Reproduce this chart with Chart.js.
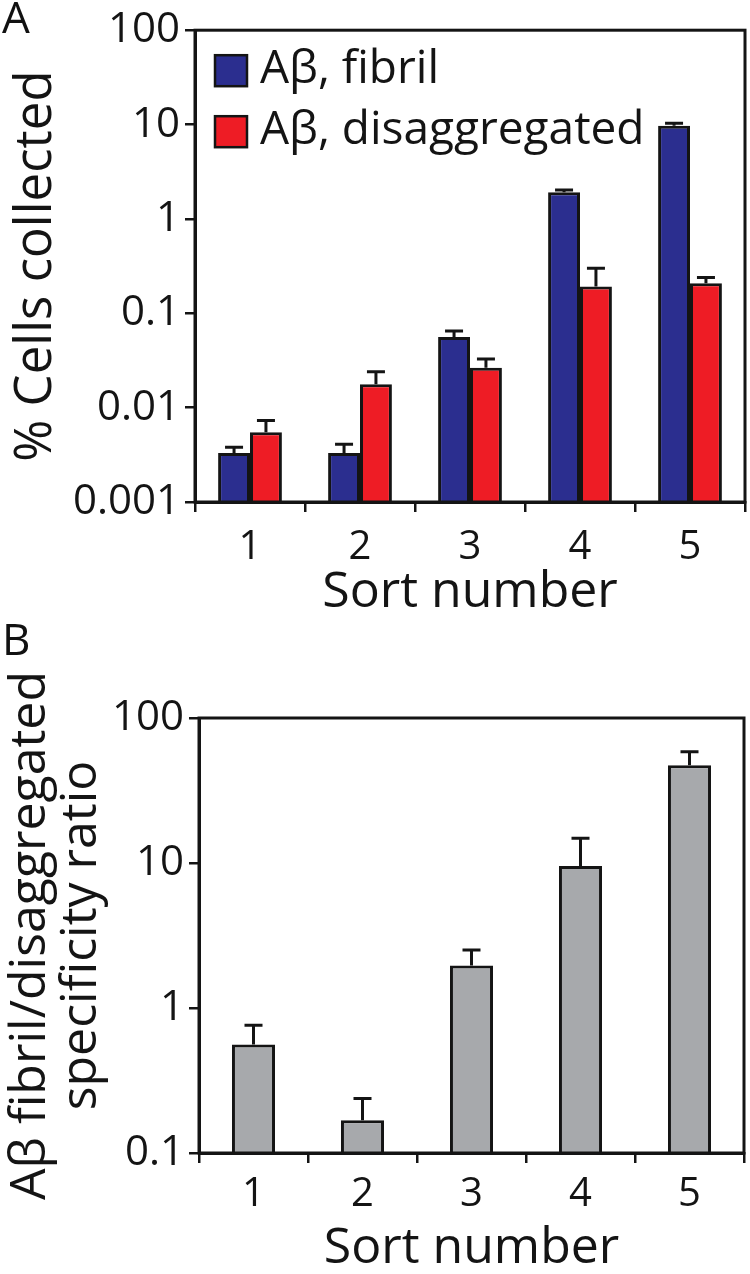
<!DOCTYPE html>
<html>
<head>
<meta charset="utf-8">
<script src="https://cdn.jsdelivr.net/npm/chart.js@4.4.0/dist/chart.umd.min.js"></script>
<style>
  html, body { margin: 0; padding: 0; background: #fff; }
  body { width: 750px; height: 1274px; position: relative; overflow: hidden; }
  .panel { position: absolute; left: 0; width: 750px; }
  #panelA { top: 0; height: 630px; }
  #panelB { top: 630px; height: 644px; }
  .letter { position: absolute; left: 2px; font-family: 'Open Sans', sans-serif; font-size: 44px; line-height: 1; color: #111; }
</style>
</head>
<body>
<div class="panel" id="panelA"><canvas id="chartA" width="750" height="630"></canvas></div>
<div class="panel" id="panelB"><canvas id="chartB" width="750" height="644"></canvas></div>
<div class="letter" style="top:-6px">A</div>
<div class="letter" style="top:616px">B</div>

<script>
// 데이터
const sortLabels = ['1', '2', '3', '4', '5'];

// 패널 A: % 회수된 세포
const fibrilPct = [0.0033, 0.0033, 0.056, 1.92, 9.7];
const fibrilErr = [0.0005, 0.0008, 0.009, 0.11, 0.6];
const disaggPct = [0.0055, 0.0177, 0.0264, 0.192, 0.208];
const disaggErr = [0.0018, 0.0063, 0.0063, 0.108, 0.031];
const yTicksA = [0.001, 0.01, 0.1, 1, 10, 100];
const yTickLabelsA = ['0.001', '0.01', '0.1', '1', '10', '100'];

// 패널 B: fibril/disaggregated 비율
const ratioVals = [0.56, 0.168, 1.96, 9.53, 47.2];
const ratioErr = [0.2, 0.07, 0.55, 5.3, 11.4];
const yTicksB = [0.1, 1, 10, 100];
const yTickLabelsB = ['0.1', '1', '10', '100'];

const FONT = "'Open Sans', sans-serif";
const INK = '#141414';

// 에러바 — Chart.js엔 없어서 플러그인으로 그림 (값 → 스케일 픽셀)
const errorBars = {
  id: 'errorBars',
  afterDatasetsDraw(chart) {
    const { ctx } = chart;
    const yScale = chart.scales.y;
    chart.data.datasets.forEach((ds, i) => {
      if (!ds.errors) return;
      chart.getDatasetMeta(i).data.forEach((bar, j) => {
        const top = yScale.getPixelForValue(ds.data[j] + ds.errors[j]);
        ctx.save();
        ctx.strokeStyle = INK;
        ctx.lineWidth = 3;
        ctx.beginPath();
        ctx.moveTo(bar.x, bar.y);
        ctx.lineTo(bar.x, top);
        ctx.moveTo(bar.x - 9, top);
        ctx.lineTo(bar.x + 9, top);
        ctx.stroke();
        ctx.restore();
      });
    });
  },
};

// 플롯 영역 테두리 (위/오른쪽 선 포함)
const frame = {
  id: 'frame',
  afterDraw(chart) {
    const { ctx, chartArea: a } = chart;
    ctx.save();
    ctx.strokeStyle = INK;
    ctx.lineWidth = 3;
    ctx.strokeRect(a.left, a.top, a.right - a.left, a.bottom - a.top);
    ctx.restore();
  },
};

// 범례 — 플롯 안쪽 왼쪽 위에 세로로
const boxLegend = {
  id: 'boxLegend',
  afterDraw(chart, args, opts) {
    if (!opts.show) return;
    const { ctx, chartArea: a } = chart;
    chart.data.datasets.forEach((ds, i) => {
      const x = a.left + 20;
      const y = a.top + 25 + i * 61;
      ctx.save();
      ctx.fillStyle = ds.backgroundColor;
      ctx.fillRect(x, y, 32, 31);
      ctx.strokeStyle = INK;
      ctx.lineWidth = 2.5;
      ctx.strokeRect(x, y, 32, 31);
      ctx.fillStyle = INK;
      ctx.font = `46px ${FONT}`;
      ctx.textBaseline = 'middle';
      ctx.fillText(ds.label, x + 45, y + 15);
      ctx.restore();
    });
  },
};

function axisX(scaleHeight, tickPad, titlePad) {
  return {
    grid: { drawOnChartArea: false, drawTicks: true, tickLength: 10, color: INK, lineWidth: 2.5, offset: true },
    border: { display: true, color: INK, width: 3 },
    ticks: { color: INK, font: { family: FONT, size: 40 }, padding: tickPad },
    title: { display: true, text: 'Sort number', color: INK, font: { family: FONT, size: 50, lineHeight: 1 }, padding: { top: 0, bottom: titlePad } },
    afterFit: (s) => { s.height = scaleHeight; },
  };
}

function axisY(min, max, ticks, labels, width, title, titleSize, titlePad, lineHeight) {
  return {
    type: 'logarithmic',
    min, max,
    afterBuildTicks: (s) => { s.ticks = ticks.map(v => ({ value: v })); },
    grid: { drawOnChartArea: false, drawTicks: true, tickLength: 10, color: INK, lineWidth: 2.5 },
    border: { display: true, color: INK, width: 3 },
    ticks: { color: INK, font: { family: FONT, size: 42 }, padding: 5, callback: (v, i) => labels[i] },
    title: { display: true, text: title, color: INK, font: { family: FONT, size: titleSize, lineHeight }, padding: { top: titlePad, bottom: 0 } },
    afterFit: (s) => { s.width = width; },
  };
}

new Chart(document.getElementById('chartA'), {
  type: 'bar',
  data: {
    labels: sortLabels,
    datasets: [
      {
        label: 'Aβ, fibril',
        data: fibrilPct,
        errors: fibrilErr,
        backgroundColor: '#2b2e8f',
        borderColor: INK,
        borderWidth: 3,
        categoryPercentage: 0.58,
        barPercentage: 1.0,
      },
      {
        label: 'Aβ, disaggregated',
        data: disaggPct,
        errors: disaggErr,
        backgroundColor: '#ee1c25',
        borderColor: INK,
        borderWidth: 3,
        categoryPercentage: 0.58,
        barPercentage: 1.0,
      },
    ],
  },
  options: {
    responsive: false,
    animation: false,
    devicePixelRatio: 1,
    layout: { padding: { top: 27, right: 5, left: 0, bottom: 0 } },
    plugins: { legend: { display: false }, tooltip: { enabled: false }, boxLegend: { show: true } },
    scales: {
      x: axisX(128, 12, 12),
      y: axisY(0.001, 100, yTicksA, yTickLabelsA, 195, '% Cells collected', 51, 11, 1),
    },
  },
  plugins: [errorBars, frame, boxLegend],
});

new Chart(document.getElementById('chartB'), {
  type: 'bar',
  data: {
    labels: sortLabels,
    datasets: [
      {
        label: 'Aβ fibril/disaggregated specificity ratio',
        data: ratioVals,
        errors: ratioErr,
        backgroundColor: '#a7a9ac',
        borderColor: INK,
        borderWidth: 3,
        categoryPercentage: 1.0,
        barPercentage: 0.395,
      },
    ],
  },
  options: {
    responsive: false,
    animation: false,
    devicePixelRatio: 1,
    layout: { padding: { top: 88, right: 6, left: 0, bottom: 0 } },
    plugins: { legend: { display: false }, tooltip: { enabled: false }, boxLegend: { show: false } },
    scales: {
      x: axisX(121, 8, 0),
      y: axisY(0.1, 100, yTicksB, yTickLabelsB, 199, ['Aβ fibril/disaggregated', 'specificity ratio'], 50, 5, 1.02),
    },
  },
  plugins: [errorBars, frame, boxLegend],
});
</script>
</body>
</html>
